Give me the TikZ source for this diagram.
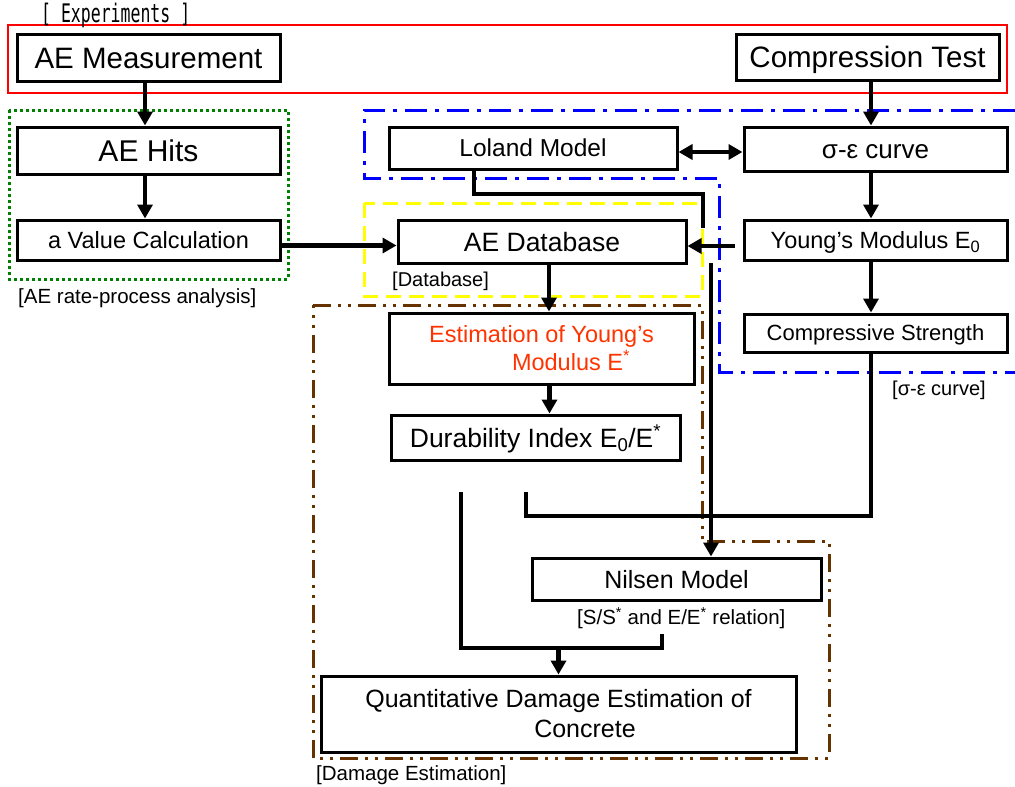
\documentclass[tikz,border=0pt]{standalone}
\usepackage{fontspec}
\setmainfont{Liberation Sans}
\newfontfamily\expfont{DejaVu Sans Mono}
\usetikzlibrary{arrows.meta}
\definecolor{grpred}{RGB}{255,0,0}
\definecolor{grpgreen}{RGB}{0,128,0}
\definecolor{grpblue}{RGB}{0,0,255}
\definecolor{grpyellow}{RGB}{255,255,0}
\definecolor{grpbrown}{RGB}{102,51,0}
\definecolor{esttext}{RGB}{255,51,0}
\begin{document}
\begin{tikzpicture}[x=1pt,y=-1pt,
  box/.style={draw, line width=3pt, inner sep=0pt, align=center},
  caps/.style={text height=#1, text depth=0pt},
  arr/.style={line width=4.2pt, -{Triangle[length=14pt,width=15pt]}},
  arrboth/.style={line width=4.2pt, {Triangle[length=14pt,width=15pt]}-{Triangle[length=14pt,width=15pt]}},
  link/.style={line width=4.2pt},
  grp/.style={line width=3pt},
  tag/.style={anchor=west, inner sep=0pt, font=\fontsize{20.5}{24}\selectfont}]
\useasboundingbox (0,0) rectangle (1015,787);
% group frames
\draw[grp, grpred, line width=2.5pt] (8,25) rectangle (1007,93);
\draw[grp, grpgreen, dash pattern=on 3pt off 3pt] (9,110) rectangle (288,279);
\draw[grp, grpblue, dash pattern=on 22pt off 8pt on 4pt off 8pt] (1015,110) -- (364,110) -- (364,178) -- (719,178) -- (719,372) -- (1015,372);
\draw[grp, grpyellow, dash pattern=on 15pt off 8pt] (364,203) rectangle (702,296);
\draw[grp, grpbrown, dash pattern=on 18pt off 7pt on 3pt off 7pt on 3pt off 7pt] (313,305) -- (702,305) -- (702,541) -- (829,541) -- (829,758) -- (313,758) -- cycle;
% group labels
\node[anchor=base west, inner sep=0pt] (lblexp) at (41,22) {\scalebox{1}[1.55]{\expfont\fontsize{16.5}{20}\selectfont [ Experiments ]}};
\node[tag] (lblrate) at (18,298) {[AE rate-process analysis]};
\node[tag, font=\fontsize{20}{24}\selectfont] (lbldb) at (392,281) {[Database]};
\node[tag, font=\fontsize{20}{24}\selectfont] (lblse) at (892,390) {[σ-ε curve]};
\node[tag] (lblrel) at (577,618) {[S/S\textsuperscript{*} and E/E\textsuperscript{*} relation]};
\node[tag] (lbldmg) at (316,775) {[Damage Estimation]};
% boxes
\node[box, caps=21.2pt, minimum width=263pt, minimum height=47pt, font=\fontsize{29.5}{34}\selectfont] (meas) at (148.5,57.5) {AE Measurement};
\node[box, caps=21.2pt, minimum width=263pt, minimum height=46pt, font=\fontsize{29.5}{34}\selectfont] (comp) at (867.5,57) {Compression Test};
\node[box, caps=21.5pt, minimum width=263pt, minimum height=47pt, font=\fontsize{30}{34}\selectfont] (hits) at (148.5,150.5) {AE Hits};
\node[box, caps=16.9pt, minimum width=263pt, minimum height=40pt, font=\fontsize{23.5}{28}\selectfont] (aval) at (148.5,240) {a Value Calculation};
\node[box, caps=17.6pt, minimum width=288pt, minimum height=42pt, font=\fontsize{24.5}{28}\selectfont] (lol) at (533,148) {Loland Model};
\node[box, caps=18.7pt, minimum width=263pt, minimum height=44pt, font=\fontsize{26}{30}\selectfont] (sigeps) at (875.5,149) {σ-ε curve};
\node[box, caps=16.9pt, minimum width=263pt, minimum height=40pt, font=\fontsize{23.5}{28}\selectfont] (young) at (875.5,240) {Young’s Modulus E\textsubscript{0}};
\node[box, caps=15.8pt, minimum width=263pt, minimum height=38pt, font=\fontsize{22}{26}\selectfont] (cstr) at (875.5,333) {Compressive Strength};
\node[box, caps=19pt, minimum width=288pt, minimum height=43pt, font=\fontsize{26.5}{30}\selectfont] (db) at (542,241.5) {AE Database};
\node[box, minimum width=305pt, minimum height=71pt, text=esttext, font=\fontsize{23.5}{28}\selectfont] (est) at (541.5,348.5) {Estimation of Young’s\\\hspace*{59pt}Modulus E\textsuperscript{*}};
\node[box, caps=19pt, minimum width=289pt, minimum height=45pt, font=\fontsize{26.5}{30}\selectfont] (dur) at (535.5,437.5) {Durability Index E\textsubscript{0}/E\textsuperscript{*}};
\node[box, caps=18pt, minimum width=289pt, minimum height=42pt, font=\fontsize{25}{30}\selectfont] (nil) at (676.5,579) {Nilsen Model};
\node[box, minimum width=475pt, minimum height=76pt, font=\fontsize{25}{30}\selectfont] (quant) at (558.5,714) {Quantitative Damage Estimation of\\\hspace*{53pt}Concrete};
% bends and free ends
\coordinate (lolA) at (703,194);
\coordinate (lolB) at (703,228);
\coordinate (lolC) at (711,263);
\coordinate (durR) at (526,516);
\coordinate (durRtop) at (526,492);
\coordinate (durLtop) at (461,492);
\coordinate (durL) at (461,648);
\coordinate (relL) at (662,648);
\coordinate (relLtop) at (662,634);
\coordinate (jn) at (558.5,648);
% connectors
\draw[arr] ([xshift=-3.5pt]meas.south) -- ([xshift=-3.5pt]hits.north);
\draw[arr] ([xshift=-3.5pt]hits.south) -- ([xshift=-3.5pt]aval.north);
\draw[arr] ([yshift=-5.5pt]aval.east) -- ([yshift=-4pt]db.west);
\draw[arr] ([xshift=3.5pt]comp.south) -- ([xshift=-4.5pt]sigeps.north);
\draw[arrboth] ([yshift=-4pt]lol.east) -- ([yshift=-3pt]sigeps.west);
\draw[arr] ([xshift=-4.5pt]sigeps.south) -- ([xshift=-4.5pt]young.north);
\draw[arr] ([xshift=-4.5pt]young.south) -- ([xshift=-4.5pt]cstr.north);
\draw[arr] ([xshift=-8pt,yshift=-6pt]young.west) -- ([yshift=-4.5pt]db.east);
\draw[arr] ([xshift=7pt]db.south) -- ([xshift=7.5pt]est.north);
\draw[arr] ([xshift=8pt]est.south) -- ([xshift=14pt]dur.north);
\draw[arr] ([xshift=-59pt]lol.south) |- (lolA) -- (lolB) (lolC) -- (lolC |- nil.north);
\draw[link] ([xshift=-4.5pt]cstr.south) |- (durR) -- (durRtop);
\draw[link] (durLtop) -- (durL) -- (relL) -- (relLtop);
\draw[arr] (jn) -- (quant.north);
\end{tikzpicture}
\end{document}
